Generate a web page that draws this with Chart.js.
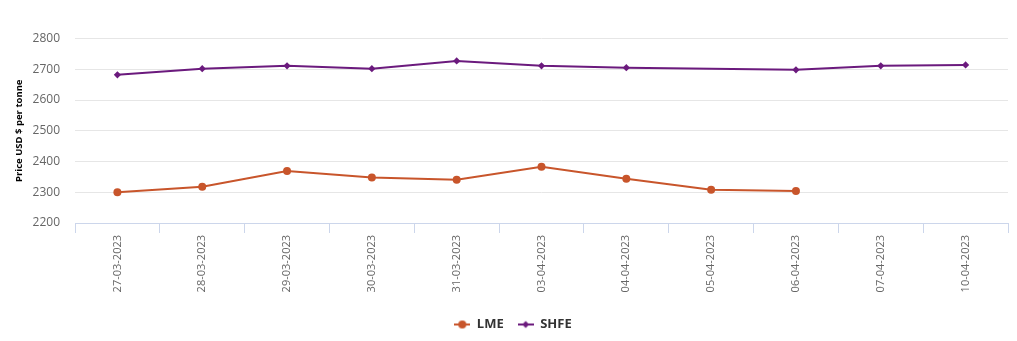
<!DOCTYPE html>
<html>
<head>
<meta charset="utf-8">
<script src="https://cdn.jsdelivr.net/npm/chart.js@4/dist/chart.umd.min.js"></script>
<style>
html,body{margin:0;padding:0;background:#fff;}
#wrap{width:1017px;height:341px;position:relative;}
</style>
</head>
<body>
<div id="wrap"><canvas id="c" width="1017" height="341"></canvas></div>
<script>
const categories = ["27-03-2023","28-03-2023","29-03-2023","30-03-2023","31-03-2023","03-04-2023","04-04-2023","05-04-2023","06-04-2023","07-04-2023","10-04-2023"];
const lmeValues = [2300, 2318, 2369, 2348, 2341, 2383, 2344, 2308, 2304, null, null];
const shfeValues = [2682, 2702, 2711, 2702, 2727, 2711, 2705, null, 2698, 2711, 2714];
const yTicks = [2200, 2300, 2400, 2500, 2600, 2700, 2800];

const LME_COLOR = '#c8552b';
const SHFE_COLOR = '#6b1a7d';

function legendIcon(color, shape){
  const cv = document.createElement('canvas');
  cv.width = 16; cv.height = 10;
  const g = cv.getContext('2d');
  g.strokeStyle = color; g.lineWidth = 2;
  g.beginPath(); g.moveTo(0,5); g.lineTo(16,5); g.stroke();
  g.fillStyle = color;
  g.beginPath();
  if (shape === 'circle') { g.arc(8,5,4,0,Math.PI*2); }
  else { g.moveTo(8,1.5); g.lineTo(11.5,5); g.lineTo(8,8.5); g.lineTo(4.5,5); g.closePath(); }
  g.fill();
  return cv;
}
const icons = [legendIcon(LME_COLOR,'circle'), legendIcon(SHFE_COLOR,'diamond')];

const shiftLegend = {
  id: 'shiftLegend',
  beforeDraw(chart){
    const lg = chart.legend;
    if (lg && !lg._shifted) {
      const orig = lg.draw.bind(lg);
      lg.draw = function(){ const ctx = this.ctx; ctx.save(); ctx.translate(9,0); orig(); ctx.restore(); };
      lg._shifted = true;
    }
  }
};

new Chart(document.getElementById('c'), {
  type: 'line',
  data: {
    labels: categories,
    datasets: [
      { label: 'LME', data: lmeValues, borderColor: LME_COLOR, backgroundColor: LME_COLOR,
        borderWidth: 2, pointRadius: 4, pointBorderWidth: 0, pointHoverRadius: 4, pointStyle: 'circle', tension: 0, spanGaps: false },
      { label: 'SHFE', data: shfeValues, borderColor: SHFE_COLOR, backgroundColor: SHFE_COLOR,
        borderWidth: 2, pointRadius: 3.6, pointBorderWidth: 0, pointHoverRadius: 3.6, pointStyle: 'rectRot', tension: 0, spanGaps: true }
    ]
  },
  plugins: [shiftLegend],
  options: {
    responsive: false,
    animation: false,
    layout: { padding: { top: 38.5, right: 9, left: 0, bottom: 0 } },
    plugins: {
      tooltip: { enabled: false },
      legend: {
        position: 'bottom',
        labels: {
          usePointStyle: true,
          pointStyleWidth: 16,
          boxHeight: 10,
          padding: 14,
          color: '#333333',
          font: { family: 'Open Sans', size: 13, weight: 'bold' },
          generateLabels(chart){
            return chart.data.datasets.map((ds,i)=>({
              text: ds.label, fillStyle: ds.borderColor, strokeStyle: ds.borderColor,
              pointStyle: icons[i], datasetIndex: i, hidden: false, lineWidth: 0, fontColor: '#333333'
            }));
          }
        }
      }
    },
    scales: {
      x: {
        offset: true,
        border: { display: true, color: '#ccd6eb', width: 1 },
        grid: { offset: true, drawOnChartArea: false, drawTicks: true, tickLength: 10, color: '#ccd6eb' },
        ticks: { autoSkip: false, minRotation: 90, maxRotation: 90, padding: 2, color: '#666666',
                 font: { family: 'Open Sans', size: 11 } },
        afterFit(scale){ scale.height = 81; }
      },
      y: {
        min: 2200, max: 2800,
        afterBuildTicks(scale){ scale.ticks = yTicks.map(v=>({value:v})); },
        border: { display: false },
        grid: { color: '#e6e6e6', drawTicks: false },
        ticks: { padding: 15, color: '#666666', font: { family: 'Open Sans', size: 12 },
                 callback: (v)=>String(v) },
        title: { display: true, text: 'Price USD $ per tonne', color: '#000000',
                 font: { family: 'Open Sans', size: 9.5, weight: 'bold' }, padding: { top: 14, bottom: 0 } },
        afterFit(scale){ scale.width = 75; }
      }
    }
  }
});
</script>
</body>
</html>
